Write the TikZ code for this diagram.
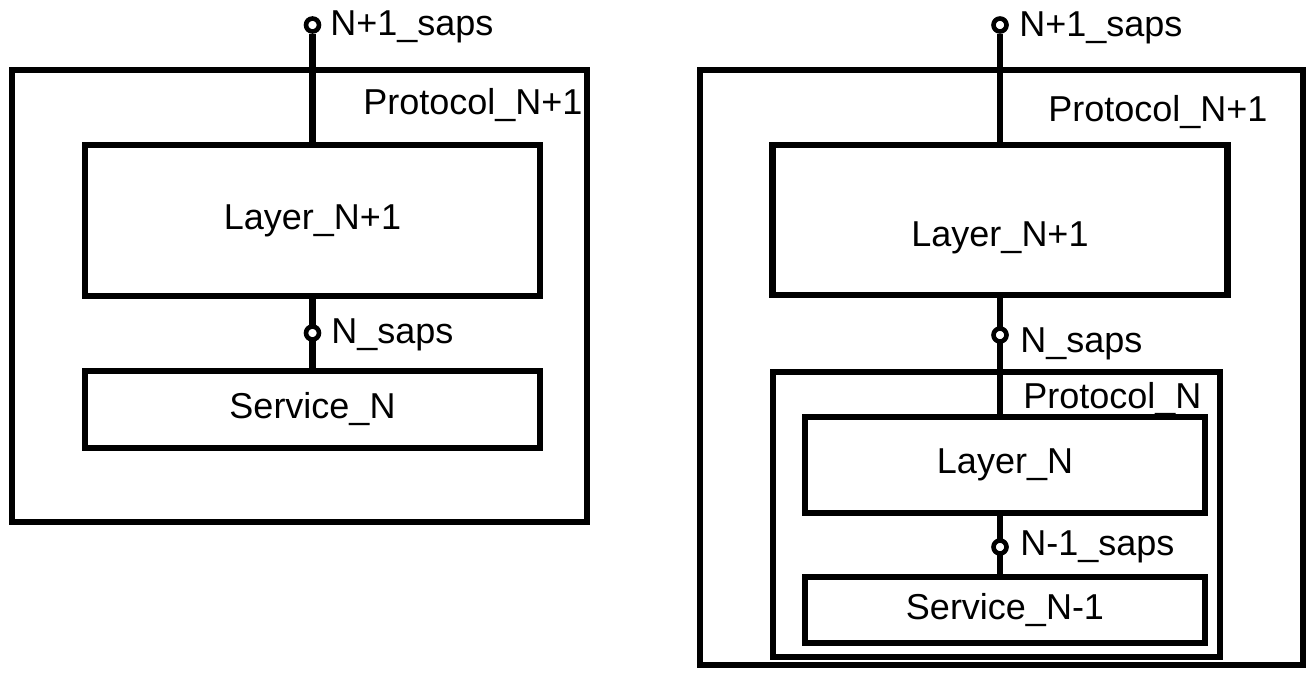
\documentclass[tikz,border=0pt]{standalone}
\usepackage{fontspec}
\setmainfont{Liberation Sans}
\usetikzlibrary{positioning}

\begin{document}
\begin{tikzpicture}[
    x = 0.5pt, y = -0.5pt,
    font = \fontsize{18}{22}\selectfont,
    frame/.style = {
      rectangle, draw, line width = 3.25pt,
      inner sep = 0pt
    },
    lbl/.style = {inner sep = 0pt, anchor = base west},
    wire/.style = {line width = 3.25pt},
    sap/.style = {
      circle, draw, line width = 2.3pt, fill = white,
      inner sep = 0pt, minimum size = 6.5pt
    }
  ]
  \useasboundingbox (0,0) rectangle (1313,675);

  % ---- Izquierda: Protocol_N+1 ----
  \node[frame, minimum width = 287.5pt, minimum height = 226pt] (protA) at (299.5,296) {};
  \node[lbl] (protAt) at (363,114) {Protocol\_N+1};

  \node[frame, minimum width = 227.5pt, minimum height = 75.5pt] (layA) at (312.5,220.5) {Layer\_N+1};
  \node[frame, minimum width = 227.5pt, minimum height = 38.5pt] (svcA) at (312.5,409.5) {Service\_N};

  % saps izquierda
  \node[sap] (sapTopA) at (312.5,25) {};
  \node[lbl] (sapTopAt) at (330,35) {N+1\_saps};
  \draw[wire] (sapTopA.south) -- (layA.north);

  \draw[wire] (layA.south) -- (svcA.north);
  \node[sap] (sapMidA) at (312.5,333) {};
  \node[lbl] (sapMidAt) at (331,343) {N\_saps};

  % ---- Derecha: Protocol_N+1 con Protocol_N dentro ----
  \node[frame, minimum width = 301.5pt, minimum height = 297.5pt] (protB) at (1001.5,367.5) {};
  \node[lbl] (protBt) at (1048,121) {Protocol\_N+1};

  \node[frame, minimum width = 227.5pt, minimum height = 75pt, text height = 30pt] (layB) at (1000,220) {Layer\_N+1};

  \node[frame, minimum width = 223.5pt, minimum height = 142.5pt] (protC) at (996.5,514.5) {};
  \node[lbl] (protCt) at (1023,408) {Protocol\_N};

  \node[frame, minimum width = 200pt, minimum height = 48pt] (layC) at (1005,465) {Layer\_N};
  \node[frame, minimum width = 200pt, minimum height = 33pt] (svcC) at (1005,610) {Service\_N-1};

  % saps derecha
  \node[sap] (sapTopB) at (1000,25) {};
  \node[lbl] (sapTopBt) at (1019,36) {N+1\_saps};
  \draw[wire] (sapTopB.south) -- (layB.north);

  \draw[wire] (layB.south) -- (layB.south |- layC.north);
  \node[sap] (sapMidB) at (1000,335) {};
  \node[lbl] (sapMidBt) at (1020,352) {N\_saps};

  \draw[wire] (layC.south -| layB.south) -- (layB.south |- svcC.north);
  \node[sap] (sapLowB) at (1000,547) {};
  \node[lbl] (sapLowBt) at (1020,555) {N-1\_saps};

\end{tikzpicture}
\end{document}
